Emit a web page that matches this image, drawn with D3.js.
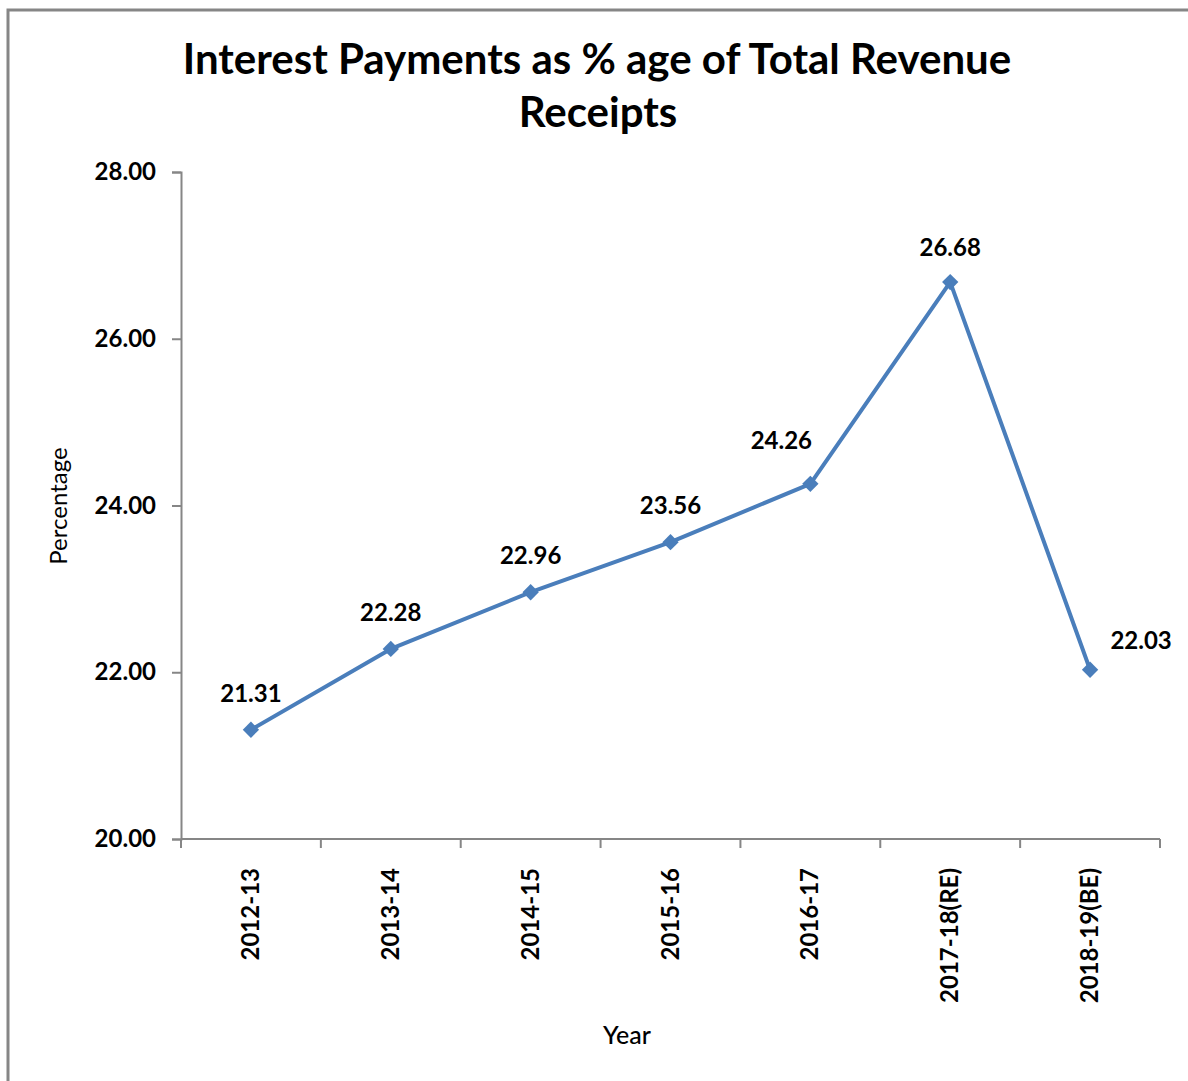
<!DOCTYPE html>
<html lang="en">
<head>
<meta charset="utf-8">
<script src="https://d3js.org/d3.v7.min.js"></script>
<style>
  body { margin: 0; background: #fff; }
  svg text { font-family: Lato, "Open Sans", sans-serif; fill: #000; }
</style>
</head>
<body>
<div id="chart"></div>
<script>
// chart data
const years = ["2012-13", "2013-14", "2014-15", "2015-16", "2016-17", "2017-18(RE)", "2018-19(BE)"];
const values = [21.31, 22.28, 22.96, 23.56, 24.26, 26.68, 22.03];
const yTicks = [20, 22, 24, 26, 28];

// label nudges (px), like the hand-moved labels in the original
const labelDx = [0, 0, 0, 0, -29, 0, 51];
const labelDy = [-28, -28, -28, -28, -35, -26, -21];

const W = 1188, H = 1081;
const margin = {top: 172, right: 28, bottom: 242, left: 181};

const svg = d3.select("#chart").append("svg")
  .attr("width", W)
  .attr("height", H);

// outer frame
svg.append("rect")
  .attr("x", 8).attr("y", 10)
  .attr("width", W + 20).attr("height", H + 20)
  .attr("fill", "none")
  .attr("stroke", "#868686")
  .attr("stroke-width", 3);

// title
svg.append("text")
  .attr("x", 597).attr("y", 74)
  .attr("text-anchor", "middle")
  .style("font-size", "42px").style("font-weight", "bold")
  .text("Interest Payments as % age of Total Revenue");
svg.append("text")
  .attr("x", 598).attr("y", 127)
  .attr("text-anchor", "middle")
  .style("font-size", "42px").style("font-weight", "bold")
  .text("Receipts");

const x = d3.scaleBand()
  .domain(years)
  .range([margin.left, W - margin.right]);

const y = d3.scaleLinear()
  .domain([20, 28])
  .range([H - margin.bottom, margin.top]);

// y axis
const yAxis = svg.append("g")
  .attr("transform", "translate(" + margin.left + ",0)")
  .call(d3.axisLeft(y).tickValues(yTicks).tickFormat(d3.format(".2f")).tickSize(9).tickPadding(16));
yAxis.select(".domain").attr("stroke", "#868686").attr("stroke-width", 2);
yAxis.selectAll(".tick line").attr("stroke", "#868686").attr("stroke-width", 2);
yAxis.selectAll("text").style("font-size", "24px").style("font-weight", "bold");

// x axis - ticks on band edges
const xAxis = svg.append("g")
  .attr("transform", "translate(0," + y(20) + ")");
xAxis.append("line")
  .attr("x1", margin.left).attr("x2", W - margin.right)
  .attr("stroke", "#868686").attr("stroke-width", 2);
const edges = years.map(d => x(d)).concat([x.range()[1]]);
xAxis.selectAll(".edge")
  .data(edges)
  .enter().append("line")
  .attr("x1", d => d).attr("x2", d => d)
  .attr("y1", 0).attr("y2", 9)
  .attr("stroke", "#868686").attr("stroke-width", 2);
xAxis.selectAll(".cat")
  .data(years)
  .enter().append("text")
  .attr("transform", d => "translate(" + (x(d) + x.bandwidth() / 2 + 8) + ",29) rotate(-90)")
  .attr("text-anchor", "end")
  .style("font-size", "24px").style("font-weight", "bold")
  .text(d => d);

// axis titles
svg.append("text")
  .attr("x", 627).attr("y", 1044)
  .attr("text-anchor", "middle")
  .style("font-size", "25px").style("font-weight", 500)
  .text("Year");
svg.append("text")
  .attr("transform", "translate(67,506) rotate(-90)")
  .attr("text-anchor", "middle")
  .style("font-size", "24px")
  .text("Percentage");

// line
const pts = years.map((d, i) => ({year: d, value: values[i], i: i}));
const cx = d => x(d.year) + x.bandwidth() / 2;

svg.append("path")
  .datum(pts)
  .attr("fill", "none")
  .attr("stroke", "#4a7ebb")
  .attr("stroke-width", 4)
  .attr("stroke-linejoin", "round")
  .attr("d", d3.line().x(cx).y(d => y(d.value)));

svg.selectAll(".pt")
  .data(pts)
  .enter().append("path")
  .attr("transform", d => "translate(" + cx(d) + "," + y(d.value) + ")")
  .attr("d", d3.symbol().type(d3.symbolDiamond2).size(170))
  .attr("fill", "#4a7ebb");

svg.selectAll(".lbl")
  .data(pts)
  .enter().append("text")
  .attr("x", d => cx(d) + labelDx[d.i])
  .attr("y", d => y(d.value) + labelDy[d.i])
  .attr("text-anchor", "middle")
  .style("font-size", "24px").style("font-weight", "bold")
  .text(d => d3.format(".2f")(d.value));
</script>
</body>
</html>
